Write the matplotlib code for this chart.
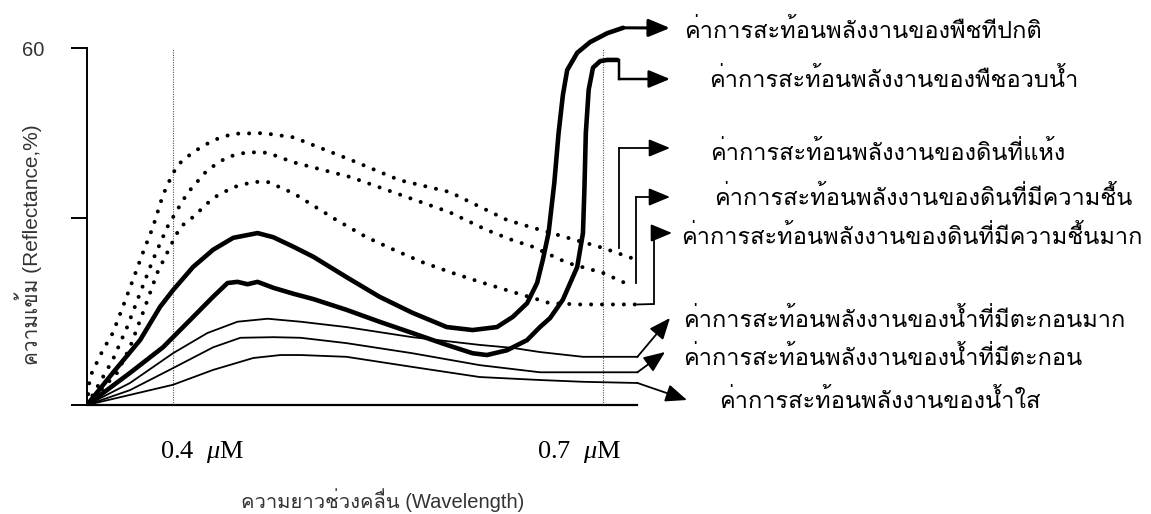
import numpy as np
import matplotlib
matplotlib.use("Agg")
import matplotlib.pyplot as plt
from matplotlib import font_manager as fm

# ---------------- data (wavelength in micrometres, reflectance in %) ----------------
wl_healthy = [0.340, 0.358, 0.377, 0.391, 0.400, 0.414, 0.428, 0.442, 0.459, 0.470, 0.484,
              0.498, 0.521, 0.544, 0.567, 0.591, 0.609, 0.626, 0.637, 0.647, 0.654, 0.658,
              0.662, 0.666, 0.669, 0.672, 0.675, 0.682, 0.691, 0.703, 0.714]
r_healthy = [0, 5.4, 10.9, 16.5, 19.3, 23.2, 26.1, 28.1, 28.9, 28.2, 26.6,
             24.9, 21.5, 18.2, 15.5, 13.1, 12.6, 13.1, 14.8, 17.1, 20.5, 24.4,
             28.9, 37.3, 45.7, 52.1, 56.3, 59.2, 61.0, 62.5, 63.4]

wl_succulent = [0.340, 0.370, 0.393, 0.412, 0.428, 0.438, 0.445, 0.452, 0.459, 0.470, 0.484,
                0.498, 0.521, 0.544, 0.567, 0.591, 0.609, 0.619, 0.633, 0.647, 0.656, 0.663,
                0.672, 0.682, 0.686, 0.687, 0.688, 0.690, 0.693, 0.698, 0.703, 0.710]
r_succulent = [0, 5.4, 9.7, 14.3, 18.2, 20.5, 20.7, 20.3, 20.7, 19.7, 18.7,
               17.8, 16.0, 14.0, 12.1, 10.1, 8.7, 8.4, 9.2, 10.9, 13.1, 14.6,
               17.7, 23.2, 28.9, 36.1, 45.7, 53.0, 56.7, 57.8, 58.0, 58.0]

wl_dry = [0.340, 0.342, 0.351, 0.358, 0.365, 0.372, 0.379, 0.386, 0.393, 0.400, 0.405,
          0.414, 0.428, 0.442, 0.463, 0.484, 0.524, 0.558, 0.593, 0.633, 0.651, 0.700, 0.720]
r_dry = [0, 4.7, 9.2, 12.1, 16.5, 21.0, 25.6, 29.9, 35.3, 39.0, 40.7,
         42.5, 44.5, 45.6, 45.7, 45.0, 41.2, 37.8, 35.8, 31.1, 29.8, 26.4, 24.7]

wl_moist = [0.340, 0.358, 0.368, 0.377, 0.386, 0.396, 0.403, 0.410, 0.424, 0.438, 0.452,
            0.466, 0.484, 0.524, 0.593, 0.619, 0.637, 0.651, 0.675, 0.700, 0.720]
r_moist = [0, 7.6, 13.1, 18.8, 24.4, 29.9, 32.8, 35.6, 39.5, 41.7, 42.5,
           42.4, 40.8, 38.3, 32.4, 29.4, 27.7, 26.6, 23.9, 22.2, 20.0]

wl_wet = [0.340, 0.361, 0.370, 0.379, 0.389, 0.398, 0.405, 0.414, 0.428, 0.442, 0.456,
          0.466, 0.484, 0.514, 0.535, 0.554, 0.574, 0.595, 0.614, 0.637, 0.651, 0.663,
          0.684, 0.705, 0.724]
r_wet = [0, 5.4, 9.7, 15.5, 22.2, 26.6, 29.9, 31.6, 34.8, 36.6, 37.5,
         37.5, 35.6, 31.1, 28.2, 26.1, 24.0, 22.2, 20.7, 19.0, 18.0, 17.1,
         16.9, 16.9, 16.9]

wl_sed_high = [0.340, 0.370, 0.400, 0.424, 0.445, 0.466, 0.489, 0.521, 0.567, 0.614,
               0.637, 0.656, 0.686, 0.724]
r_sed_high = [0, 3.7, 8.7, 12.1, 14.0, 14.5, 14.0, 13.1, 11.4, 10.1, 9.6, 8.9, 8.1, 8.1]

wl_sed = [0.340, 0.370, 0.400, 0.428, 0.447, 0.470, 0.489, 0.521, 0.567, 0.614, 0.656, 0.724]
r_sed = [0, 2.5, 6.2, 9.7, 11.3, 11.4, 11.3, 10.4, 8.7, 6.7, 5.5, 5.5]

wl_clear = [0.340, 0.370, 0.400, 0.428, 0.456, 0.475, 0.489, 0.521, 0.567, 0.614, 0.656,
            0.686, 0.724]
r_clear = [0, 1.7, 3.4, 5.9, 7.9, 8.4, 8.4, 8.1, 6.4, 4.7, 4.2, 3.9, 3.7]

labels = [
    "ค่าการสะท้อนพลังงานของพืชทีปกติ",
    "ค่าการสะท้อนพลังงานของพืชอวบน้ำ",
    "ค่าการสะท้อนพลังงานของดินที่แห้ง",
    "ค่าการสะท้อนพลังงานของดินที่มีความชื้น",
    "ค่าการสะท้อนพลังงานของดินที่มีความชื้นมาก",
    "ค่าการสะท้อนพลังงานของน้ำที่มีตะกอนมาก",
    "ค่าการสะท้อนพลังงานของน้ำที่มีตะกอน",
    "ค่าการสะท้อนพลังงานของน้ำใส",
]
guide_wl = [0.4, 0.7]
guide_labels = ["0.4  $\\mu$M", "0.7  $\\mu$M"]
y_ticks = [0, 31.5, 60]
y_ticklabels = ["", "", "60"]
y_label = "ความเข้ม (Reflectance,%)"
x_label = "ความยาวช่วงคลื่น (Wavelength)"

# ---------------- fonts ----------------
available = {f.name for f in fm.fontManager.ttflist}
thai = next((n for n in ["Loma", "Garuda", "Waree", "Umpush", "Anuphan", "FreeSerif"]
             if n in available), "DejaVu Sans")
thai_fam = [thai, "DejaVu Sans"]
lat_thai_fam = ["Liberation Sans", thai, "DejaVu Sans"]

plt.rcParams["mathtext.fontset"] = "custom"
plt.rcParams["mathtext.rm"] = "Liberation Serif"
plt.rcParams["mathtext.it"] = "Liberation Serif:italic"

# ---------------- figure ----------------
W, H = 1151, 514
fig = plt.figure(figsize=(W / 100, H / 100), dpi=100)
fig.patch.set_facecolor("white")
ax = fig.add_axes([87 / W, (H - 405) / H, (W - 87) / W, (405 - 18.3) / H])
ax.set_xlim(0.340, 1.0823)
ax.set_ylim(0, 65)
ax.patch.set_alpha(0)

for s in ["top", "right"]:
    ax.spines[s].set_visible(False)
ax.spines["left"].set_bounds(0, 60)
ax.spines["bottom"].set_bounds(0.340, 0.724)
ax.spines["left"].set_linewidth(1.4)
ax.spines["bottom"].set_linewidth(1.6)
ax.set_xticks([])
ax.set_yticks(y_ticks)
ax.set_yticklabels(y_ticklabels, family="Liberation Sans", fontsize=14.5, color="#333333")
ax.tick_params(axis="y", length=11.5, width=1.4, pad=19, direction="out")

# guides
ax.vlines(guide_wl, 0, 60, colors="#555555", lw=0.8, linestyles=(0, (1, 1.2)))

thick = dict(color="black", lw=3.3, solid_joinstyle="round", solid_capstyle="round")
thin = dict(color="black", lw=1.3, solid_joinstyle="round")
dotted = dict(color="black", lw=2.9, linestyle=(0, (0.01, 2.7)), dash_capstyle="round")

ax.plot(wl_healthy, r_healthy, **thick)
ax.plot(wl_succulent, r_succulent, **thick)
ax.plot(wl_dry, r_dry, **dotted)
ax.plot(wl_moist, r_moist, **dotted)
ax.plot(wl_wet, r_wet, **dotted)
ax.plot(wl_sed_high, r_sed_high, **thin)
ax.plot(wl_sed, r_sed, **thin)
ax.plot(wl_clear, r_clear, **thin)

# ---------------- connectors and labels (layout in pixels from top-left) ----------------
inv = ax.transData.inverted()
def P(px, py):
    return inv.transform((px, H - py))

def end_of(wl, r):
    return (wl[-1], r[-1])

series_end = {
    0: end_of(wl_healthy, r_healthy),
    1: end_of(wl_succulent, r_succulent),
    2: (P(619, 0)[0], float(np.interp(P(619, 0)[0], wl_dry, r_dry)) + 0.9),
    3: (P(636, 0)[0], float(np.interp(P(636, 0)[0], wl_moist, r_moist)) + 0.5),
    4: end_of(wl_wet, r_wet),
    5: end_of(wl_sed_high, r_sed_high),
    6: end_of(wl_sed, r_sed),
    7: end_of(wl_clear, r_clear),
}
routes = {
    0: [(670, 28)],
    1: [(619, 60), (619, 79), (670, 79)],
    2: [(619, 148), (670, 148)],
    3: [(636, 197), (670, 197)],
    4: [(654, 304), (654, 233), (672, 233)],
    5: [(670, 318)],
    6: [(665, 352)],
    7: [(687, 400)],
}
route_lw = {0: 2.2, 1: 1.8}
label_pos = [(684, 31), (709, 80), (710, 153), (714, 198), (681, 237), (683, 320), (683, 358), (719, 401)]

for i in range(8):
    pts = [series_end[i]] + [tuple(P(*p)) for p in routes[i]]
    lw = route_lw.get(i, 1.3)
    xs = [p[0] for p in pts[:-1]]
    ys = [p[1] for p in pts[:-1]]
    if len(xs) > 1:
        ax.plot(xs, ys, color="black", lw=lw, clip_on=False, solid_joinstyle="miter")
    ax.annotate("", xy=pts[-1], xytext=pts[-2], xycoords="data", textcoords="data",
                arrowprops=dict(arrowstyle="-|>,head_length=0.65,head_width=0.27",
                                color="black", lw=lw, shrinkA=0, shrinkB=0,
                                mutation_scale=20),
                annotation_clip=False)
    lx, ly = P(*label_pos[i])
    ax.text(lx, ly, labels[i], family=thai_fam, fontsize=17, ha="left", va="center",
            clip_on=False)

# guide labels
for x0, t in zip([160, 537], guide_labels):
    fig.text(x0 / W, 1 - 452 / H, t, family="Liberation Serif", fontsize=19,
             ha="left", va="center")

fig.text(28 / W, 1 - 245 / H, y_label, family=lat_thai_fam, fontsize=15, rotation=90,
         ha="center", va="center", color="#333333")
fig.text(383 / W, 1 - 500 / H, x_label, family=lat_thai_fam, fontsize=14.5,
         ha="center", va="center", color="#333333")

fig.savefig("out.png", dpi=100, facecolor="white")
